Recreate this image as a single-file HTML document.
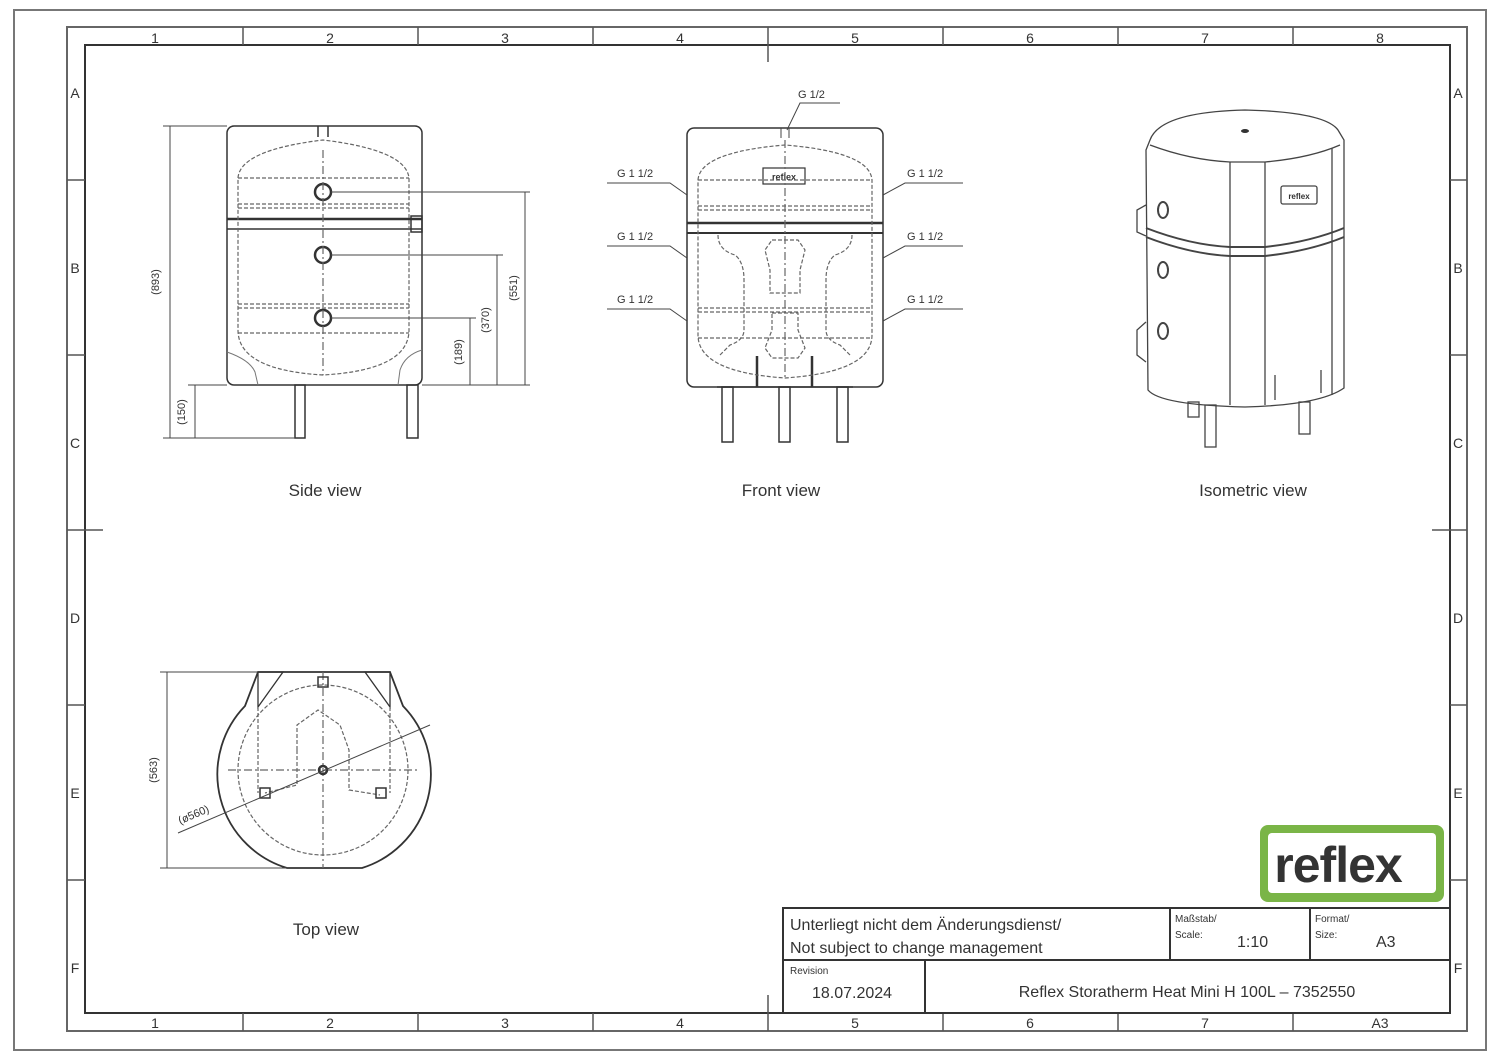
<!DOCTYPE html>
<html><head><meta charset="utf-8"><style>
html,body{margin:0;padding:0;background:#fff}
svg{display:block}
text{font-family:"Liberation Sans",sans-serif;fill:#333}
</style></head><body>
<svg width="1500" height="1059" viewBox="0 0 1500 1059" xmlns="http://www.w3.org/2000/svg">
<rect x="0" y="0" width="1500" height="1059" fill="#fff"/>
<!-- frames -->
<rect x="14" y="10" width="1472" height="1040" fill="none" stroke="#777" stroke-width="2"/>
<rect x="67" y="27" width="1400" height="1004" fill="none" stroke="#666" stroke-width="2"/>
<rect x="85" y="45" width="1365" height="968" fill="none" stroke="#333" stroke-width="2"/>
<g stroke="#555" stroke-width="1.5">
<line x1="243" y1="27" x2="243" y2="45"/><line x1="418" y1="27" x2="418" y2="45"/><line x1="593" y1="27" x2="593" y2="45"/><line x1="768" y1="27" x2="768" y2="62"/><line x1="943" y1="27" x2="943" y2="45"/><line x1="1118" y1="27" x2="1118" y2="45"/><line x1="1293" y1="27" x2="1293" y2="45"/>
<line x1="243" y1="1013" x2="243" y2="1031"/><line x1="418" y1="1013" x2="418" y2="1031"/><line x1="593" y1="1013" x2="593" y2="1031"/><line x1="768" y1="995" x2="768" y2="1031"/><line x1="943" y1="1013" x2="943" y2="1031"/><line x1="1118" y1="1013" x2="1118" y2="1031"/><line x1="1293" y1="1013" x2="1293" y2="1031"/>
<line x1="67" y1="180" x2="85" y2="180"/><line x1="67" y1="355" x2="85" y2="355"/><line x1="67" y1="530" x2="103" y2="530"/><line x1="67" y1="705" x2="85" y2="705"/><line x1="67" y1="880" x2="85" y2="880"/>
<line x1="1450" y1="180" x2="1467" y2="180"/><line x1="1450" y1="355" x2="1467" y2="355"/><line x1="1432" y1="530" x2="1467" y2="530"/><line x1="1450" y1="705" x2="1467" y2="705"/><line x1="1450" y1="880" x2="1467" y2="880"/>
</g>
<g font-size="14" text-anchor="middle" fill="#444">
<text x="155" y="43">1</text><text x="330" y="43">2</text><text x="505" y="43">3</text><text x="680" y="43">4</text><text x="855" y="43">5</text><text x="1030" y="43">6</text><text x="1205" y="43">7</text><text x="1380" y="43">8</text>
<text x="155" y="1028">1</text><text x="330" y="1028">2</text><text x="505" y="1028">3</text><text x="680" y="1028">4</text><text x="855" y="1028">5</text><text x="1030" y="1028">6</text><text x="1205" y="1028">7</text><text x="1380" y="1028">A3</text>
<text x="75" y="98">A</text><text x="75" y="273">B</text><text x="75" y="448">C</text><text x="75" y="623">D</text><text x="75" y="798">E</text><text x="75" y="973">F</text>
<text x="1458" y="98">A</text><text x="1458" y="273">B</text><text x="1458" y="448">C</text><text x="1458" y="623">D</text><text x="1458" y="798">E</text><text x="1458" y="973">F</text>
</g>

<!-- SIDE VIEW -->
<g fill="none" stroke="#333" stroke-width="1.5">
<rect x="227" y="126" width="195" height="259" rx="7"/>
<line x1="227" y1="219" x2="422" y2="219" stroke-width="2.5"/><line x1="227" y1="229" x2="422" y2="229"/>
<rect x="411" y="216" width="11" height="16"/>
<circle cx="323" cy="192" r="8" stroke-width="2.5"/><circle cx="323" cy="255" r="8" stroke-width="2.5"/><circle cx="323" cy="318" r="8" stroke-width="2.5"/>
<rect x="295" y="385" width="10" height="53"/><rect x="407" y="385" width="11" height="53"/>
<line x1="318" y1="126" x2="318" y2="137"/><line x1="328" y1="126" x2="328" y2="137"/>
</g>
<g fill="none" stroke="#666" stroke-width="1.2" stroke-dasharray="4 2">
<path d="M238 178 Q240 150 323 140 Q406 150 409 178 L409 330 Q409 370 323 375 Q238 370 238 330 Z"/>
<line x1="238" y1="178" x2="409" y2="178"/><line x1="238" y1="204" x2="409" y2="204"/><line x1="238" y1="208" x2="409" y2="208"/><line x1="238" y1="304" x2="409" y2="304"/><line x1="238" y1="308" x2="409" y2="308"/><line x1="238" y1="333" x2="409" y2="333"/>
<line x1="323" y1="150" x2="323" y2="375" stroke-dasharray="8 3 2 3"/>
</g>
<path d="M227 352 Q250 360 255 372 L258 385 M422 350 Q405 355 400 370 L398 385" fill="none" stroke="#777" stroke-width="1"/>
<g stroke="#444" stroke-width="1" fill="none">
<line x1="163" y1="126" x2="227" y2="126"/><line x1="163" y1="438" x2="295" y2="438"/><line x1="170" y1="126" x2="170" y2="438"/>
<line x1="188" y1="385" x2="227" y2="385"/><line x1="195" y1="385" x2="195" y2="438"/>
<line x1="331" y1="192" x2="530" y2="192"/><line x1="331" y1="255" x2="503" y2="255"/><line x1="331" y1="318" x2="476" y2="318"/>
<line x1="422" y1="385" x2="530" y2="385"/>
<line x1="470" y1="318" x2="470" y2="385"/><line x1="497" y1="255" x2="497" y2="385"/><line x1="525" y1="192" x2="525" y2="385"/>
</g>
<g font-size="11" text-anchor="middle" fill="#444">
<text transform="translate(159,282) rotate(-90)">(893)</text>
<text transform="translate(185,412) rotate(-90)">(150)</text>
<text transform="translate(462,352) rotate(-90)">(189)</text>
<text transform="translate(489,320) rotate(-90)">(370)</text>
<text transform="translate(517,288) rotate(-90)">(551)</text>
</g>
<text x="325" y="496" font-size="17" text-anchor="middle">Side  view</text>

<!-- FRONT VIEW -->
<g fill="none" stroke="#333" stroke-width="1.5">
<rect x="687" y="128" width="196" height="259" rx="7"/>
<line x1="687" y1="223" x2="883" y2="223" stroke-width="2.5"/><line x1="687" y1="233" x2="883" y2="233" stroke-width="2"/>
<rect x="722" y="387" width="11" height="55"/><rect x="779" y="387" width="11" height="55"/><rect x="837" y="387" width="11" height="55"/>
<line x1="717" y1="387" x2="853" y2="387"/>
<line x1="757" y1="356" x2="757" y2="387" stroke-width="2.5"/><line x1="812" y1="356" x2="812" y2="387" stroke-width="2.5"/>
<rect x="763" y="168" width="42" height="16" stroke-width="1.2"/>
</g>
<text x="784" y="180" font-size="9" text-anchor="middle" font-weight="bold">reflex</text>
<g fill="none" stroke="#666" stroke-width="1.2" stroke-dasharray="4 2">
<path d="M698 180 Q700 152 785 145 Q870 152 872 180 L872 335 Q872 372 785 378 Q698 372 698 335 Z"/>
<line x1="698" y1="180" x2="872" y2="180"/><line x1="698" y1="206" x2="872" y2="206"/><line x1="698" y1="210" x2="872" y2="210"/><line x1="698" y1="308" x2="872" y2="308"/><line x1="698" y1="312" x2="872" y2="312"/><line x1="698" y1="338" x2="872" y2="338"/>
<path d="M718 235 Q718 250 735 255 Q744 262 744 280 L744 330 Q744 340 730 345 L720 355"/>
<path d="M852 235 Q852 250 835 255 Q826 262 826 280 L826 330 Q826 340 840 345 L850 355"/>
<path d="M772 240 L798 240 L805 250 L800 270 L800 293 L770 293 L770 270 L765 250 Z"/>
<path d="M772 313 L798 313 L798 330 L805 348 L798 358 L772 358 L765 348 L772 330 Z"/>
<line x1="785" y1="140" x2="785" y2="380" stroke-dasharray="8 3 2 3"/>
</g>
<g stroke="#444" stroke-width="1" fill="none">
<line x1="781" y1="128" x2="781" y2="138"/><line x1="789" y1="128" x2="789" y2="138"/>
<polyline points="787,130 800,103 840,103"/>
<polyline points="607,183 670,183 687,195"/><polyline points="607,246 670,246 687,258"/><polyline points="607,309 670,309 687,321"/>
<polyline points="963,183 905,183 883,195"/><polyline points="963,246 905,246 883,258"/><polyline points="963,309 905,309 883,321"/>
</g>
<g font-size="11" fill="#444">
<text x="798" y="98">G 1/2</text>
<text x="617" y="177">G 1 1/2</text><text x="617" y="240">G 1 1/2</text><text x="617" y="303">G 1 1/2</text>
<text x="907" y="177">G 1 1/2</text><text x="907" y="240">G 1 1/2</text><text x="907" y="303">G 1 1/2</text>
</g>
<text x="781" y="496" font-size="17" text-anchor="middle">Front  view</text>

<!-- ISOMETRIC -->
<g fill="none" stroke="#444" stroke-width="1.3">
<path d="M1150 140 Q1160 112 1245 110 Q1325 112 1338 130 L1344 140 L1344 150 L1344 388 Q1320 405 1245 407 Q1160 405 1148 390 L1146 150 Z"/>
<path d="M1150 145 Q1190 160 1230 162 L1265 162 Q1310 158 1340 145"/>
<line x1="1230" y1="162" x2="1230" y2="405"/><line x1="1265" y1="162" x2="1265" y2="405"/><line x1="1332" y1="148" x2="1332" y2="395"/>
<path d="M1146 228 Q1190 245 1230 247 L1265 247 Q1310 242 1344 228" stroke-width="2"/>
<path d="M1146 237 Q1190 254 1230 256 L1265 256 Q1310 251 1344 237" stroke-width="2"/>
<ellipse cx="1163" cy="210" rx="5" ry="8" stroke-width="2"/><ellipse cx="1163" cy="270" rx="5" ry="8" stroke-width="2"/><ellipse cx="1163" cy="331" rx="5" ry="8" stroke-width="2"/>
<rect x="1281" y="186" width="36" height="18" rx="2"/>
<path d="M1146 205 L1137 210 L1137 232 L1146 236"/>
<path d="M1146 322 L1137 330 L1137 355 L1146 362"/>
<rect x="1188" y="402" width="11" height="15"/><rect x="1205" y="405" width="11" height="42"/><rect x="1299" y="402" width="11" height="32"/>
<line x1="1275" y1="375" x2="1275" y2="400"/><line x1="1321" y1="370" x2="1321" y2="393"/>
</g>
<ellipse cx="1245" cy="131" rx="4" ry="2" fill="#333"/>
<text x="1299" y="199" font-size="8" text-anchor="middle" font-weight="bold">reflex</text>
<text x="1253" y="496" font-size="17" text-anchor="middle">Isometric  view</text>

<!-- TOP VIEW -->
<g fill="none" stroke="#333" stroke-width="1.8">
<path d="M258 672 L390 672 L403 706 A98 98 0 0 1 362 868 L287 868 A98 98 0 0 1 245 706 Z"/>
<path d="M258 672 L283 672 L258 707 Z M390 672 L365 672 L390 707 Z" stroke-width="1.3"/>
</g>
<g fill="none" stroke="#666" stroke-width="1.2" stroke-dasharray="4 2">
<circle cx="323" cy="770" r="85"/>
<line x1="258" y1="707" x2="258" y2="793"/><line x1="390" y1="707" x2="390" y2="793"/>
<path d="M297 750 L297 725 L318 710 L340 725 L349 750 L349 790 L380 795"/>
<path d="M297 750 L297 785 L265 793"/>
<line x1="323" y1="672" x2="323" y2="868" stroke-dasharray="8 3 2 3"/>
<line x1="228" y1="770" x2="420" y2="770" stroke-dasharray="8 3 2 3"/>
</g>
<g fill="none" stroke="#333" stroke-width="1.5">
<rect x="318" y="677" width="10" height="10"/><rect x="260" y="788" width="10" height="10"/><rect x="376" y="788" width="10" height="10"/>
<circle cx="323" cy="770" r="4" stroke-width="2.5"/>
</g>
<g stroke="#444" stroke-width="1" fill="none">
<line x1="160" y1="672" x2="258" y2="672"/><line x1="160" y1="868" x2="287" y2="868"/><line x1="167" y1="672" x2="167" y2="868"/>
<line x1="178" y1="833" x2="430" y2="725"/>
</g>
<g font-size="11" fill="#444" text-anchor="middle">
<text transform="translate(157,770) rotate(-90)">(563)</text>
<text transform="translate(195,818) rotate(-23)">(ø560)</text>
</g>
<text x="326" y="935" font-size="17" text-anchor="middle">Top  view</text>

<!-- LOGO -->
<rect x="1260" y="825" width="184" height="77" rx="8" fill="#7ab547"/>
<rect x="1268" y="833" width="168" height="60" rx="4" fill="#fff"/>
<text x="1338" y="882" font-size="50" font-weight="bold" text-anchor="middle" fill="#111" style="letter-spacing:-1px">reflex</text>

<!-- TITLE BLOCK -->
<g fill="none" stroke="#333" stroke-width="2">
<rect x="783" y="908" width="667" height="105"/>
<line x1="783" y1="960" x2="1450" y2="960"/>
<line x1="1170" y1="908" x2="1170" y2="960"/><line x1="1310" y1="908" x2="1310" y2="960"/>
<line x1="925" y1="960" x2="925" y2="1013"/>
</g>
<g fill="#333">
<text x="790" y="930" font-size="16">Unterliegt  nicht  dem  Änderungsdienst/</text>
<text x="790" y="953" font-size="16">Not  subject  to  change  management</text>
<text x="1175" y="922" font-size="10">Maßstab/</text><text x="1175" y="938" font-size="10">Scale:</text>
<text x="1237" y="947" font-size="16">1:10</text>
<text x="1315" y="922" font-size="10">Format/</text><text x="1315" y="938" font-size="10">Size:</text>
<text x="1376" y="947" font-size="16">A3</text>
<text x="790" y="974" font-size="10">Revision</text>
<text x="812" y="998" font-size="16">18.07.2024</text>
<text x="1187" y="997" font-size="16" text-anchor="middle">Reflex  Storatherm  Heat  Mini  H  100L  –  7352550</text>
</g>
</svg>
</body></html>
